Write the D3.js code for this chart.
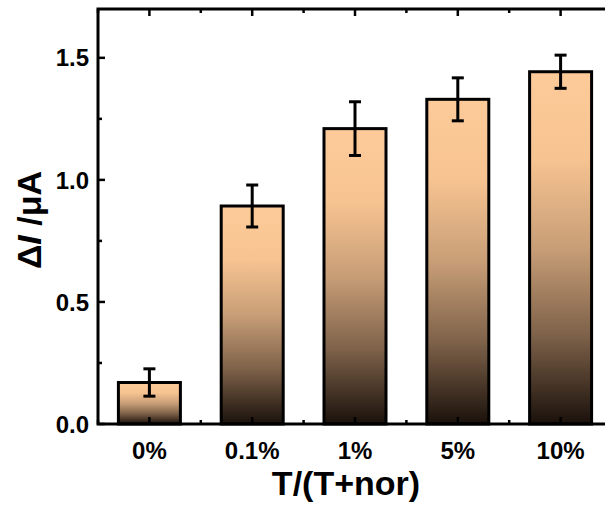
<!DOCTYPE html>
<html>
<head>
<meta charset="utf-8">
<script src="https://cdn.jsdelivr.net/npm/d3@7"></script>
<style>
  body { margin: 0; background: #fff; }
  svg { display: block; font-family: "Liberation Sans", Arial, sans-serif; font-weight: bold; }
</style>
</head>
<body>
<div id="chart"></div>
<script>
// data
var categories = ["0%", "0.1%", "1%", "5%", "10%"];
var values = [0.17, 0.893, 1.21, 1.33, 1.443];
var errors = [0.056, 0.086, 0.11, 0.088, 0.068];
var yTicks = [0, 0.5, 1.0, 1.5];
var yMinor = [0.25, 0.75, 1.25];

var W = 605, H = 509;
var plotL = 98, plotR = 612, plotT = 9, plotB = 424;

var svg = d3.select('#chart').append('svg')
    .attr('width', W)
    .attr('height', H);

var x = d3.scalePoint().domain(categories).range([plotL, plotR]).padding(0.5);
var y = d3.scaleLinear().domain([0, 1.7]).range([plotB, plotT]);
var barW = 62;

// gradient, peach on top to almost black at the base
var grad = svg.append('defs').append('linearGradient')
    .attr('id', 'barGrad')
    .attr('x1', 0).attr('y1', 0).attr('x2', 0).attr('y2', 1);
[[0, '#fdcb99'], [0.25, '#f6c391'], [0.5, '#c89e77'], [0.75, '#7d6149'], [1, '#1a110b']].forEach(function(s) {
    grad.append('stop').attr('offset', s[0]).attr('stop-color', s[1]);
});

// bars
svg.selectAll('rect.bar')
    .data(values)
    .enter().append('rect')
    .attr('class', 'bar')
    .attr('x', function(d, i) { return x(categories[i]) - barW / 2; })
    .attr('y', function(d) { return y(d); })
    .attr('width', barW)
    .attr('height', function(d) { return y(0) - y(d); })
    .attr('fill', 'url(#barGrad)')
    .attr('stroke', '#000')
    .attr('stroke-width', 3);

// error bars
var eb = svg.selectAll('g.err')
    .data(values)
    .enter().append('g')
    .attr('class', 'err')
    .attr('stroke', '#000')
    .attr('stroke-width', 3);
eb.append('line')
    .attr('x1', function(d, i) { return x(categories[i]); })
    .attr('x2', function(d, i) { return x(categories[i]); })
    .attr('y1', function(d, i) { return y(d + errors[i]); })
    .attr('y2', function(d, i) { return y(d - errors[i]); });
eb.append('line')
    .attr('x1', function(d, i) { return x(categories[i]) - 6; })
    .attr('x2', function(d, i) { return x(categories[i]) + 6; })
    .attr('y1', function(d, i) { return y(d + errors[i]); })
    .attr('y2', function(d, i) { return y(d + errors[i]); });
eb.append('line')
    .attr('x1', function(d, i) { return x(categories[i]) - 6; })
    .attr('x2', function(d, i) { return x(categories[i]) + 6; })
    .attr('y1', function(d, i) { return y(d - errors[i]); })
    .attr('y2', function(d, i) { return y(d - errors[i]); });

// minor x positions (between categories)
var step = x.step();
var xMinor = [0, 1, 2, 3, 4, 5].map(function(i) { return plotL + i * step; });

// ticks, all pointing inward
var ticks = svg.append('g').attr('stroke', '#000').attr('stroke-width', 2.5);
yTicks.forEach(function(v) {
    ticks.append('line').attr('x1', plotL).attr('x2', plotL + 7).attr('y1', y(v)).attr('y2', y(v));
    ticks.append('line').attr('x1', plotR).attr('x2', plotR - 7).attr('y1', y(v)).attr('y2', y(v));
});
yMinor.forEach(function(v) {
    ticks.append('line').attr('x1', plotL).attr('x2', plotL + 4).attr('y1', y(v)).attr('y2', y(v));
    ticks.append('line').attr('x1', plotR).attr('x2', plotR - 4).attr('y1', y(v)).attr('y2', y(v));
});
categories.forEach(function(c) {
    ticks.append('line').attr('x1', x(c)).attr('x2', x(c)).attr('y1', plotB).attr('y2', plotB - 7);
    ticks.append('line').attr('x1', x(c)).attr('x2', x(c)).attr('y1', plotT).attr('y2', plotT + 7);
});
xMinor.forEach(function(v) {
    ticks.append('line').attr('x1', v).attr('x2', v).attr('y1', plotB).attr('y2', plotB - 4);
    ticks.append('line').attr('x1', v).attr('x2', v).attr('y1', plotT).attr('y2', plotT + 4);
});

// frame
svg.append('rect')
    .attr('x', plotL).attr('y', plotT)
    .attr('width', plotR - plotL).attr('height', plotB - plotT)
    .attr('fill', 'none')
    .attr('stroke', '#000')
    .attr('stroke-width', 3);

// tick labels
svg.selectAll('text.ylab')
    .data(yTicks)
    .enter().append('text')
    .attr('class', 'ylab')
    .attr('x', plotL - 9)
    .attr('y', function(d) { return y(d); })
    .attr('dy', '0.36em')
    .attr('text-anchor', 'end')
    .attr('font-size', 24)
    .text(function(d) { return d.toFixed(1); });

svg.selectAll('text.xlab')
    .data(categories)
    .enter().append('text')
    .attr('class', 'xlab')
    .attr('x', function(d) { return x(d); })
    .attr('y', 459)
    .attr('text-anchor', 'middle')
    .attr('font-size', 24)
    .text(function(d) { return d; });

// axis titles
svg.append('text')
    .attr('x', 346)
    .attr('y', 495)
    .attr('text-anchor', 'middle')
    .attr('font-size', 34)
    .text('T/(T+nor)');

var yt = svg.append('text')
    .attr('transform', 'translate(41,220) rotate(-90)')
    .attr('text-anchor', 'middle')
    .attr('font-size', 34);
yt.append('tspan').text('Δ');
yt.append('tspan').attr('font-style', 'italic').text('I');
yt.append('tspan').text(' /μA');
</script>
</body>
</html>
